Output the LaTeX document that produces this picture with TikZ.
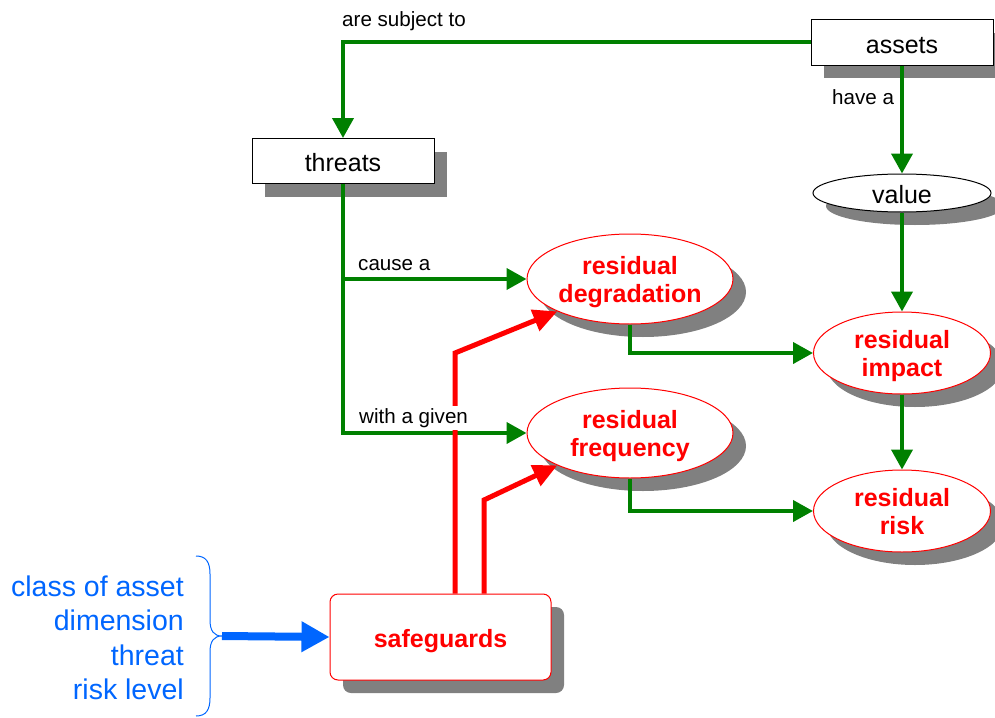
\documentclass[tikz,border=0pt]{standalone}
\usepackage{fontspec}
\setmainfont{Liberation Sans}
\usetikzlibrary{arrows.meta,shapes.geometric,shadows}
\definecolor{lgreen}{RGB}{0,128,0}
\definecolor{lred}{RGB}{255,0,0}
\definecolor{lblue}{RGB}{0,102,255}
\definecolor{shgray}{RGB}{128,128,128}
\tikzset{
  shad/.style={general shadow={fill=shgray, shadow xshift=13pt, shadow yshift=-13pt}},
  boxnode/.style={draw=black, line width=1pt, fill=white, minimum width=182pt, minimum height=45pt,
    inner sep=0pt, shad, text height=21pt, text depth=0pt, font=\fontsize{25}{30}\selectfont},
  ellnode/.style={ellipse, draw=lred, line width=1pt, fill=white, inner sep=0pt, align=center,
    text=lred, shad, text height=50pt, text depth=3pt, font=\bfseries\fontsize{25}{28}\selectfont},
  valnode/.style={ellipse, draw=black, line width=1pt, fill=white, inner sep=0pt,
    shad, text height=21pt, text depth=0pt, font=\fontsize{25}{30}\selectfont},
  safenode/.style={draw=lred, line width=1pt, fill=white, rounded corners=8pt, inner sep=0pt,
    text=lred, shad, text height=20pt, text depth=0pt, font=\bfseries\fontsize{25}{30}\selectfont},
  glink/.style={draw=lgreen, line width=4pt, -{Triangle[length=20pt,width=21pt]}},
  rlink/.style={draw=lred, line width=5pt, -{Triangle[length=24pt,width=22pt]}},
  blink/.style={draw=lblue, line width=8pt, -{Triangle[length=28pt,width=29pt]}},
  lab/.style={anchor=west, inner sep=2pt, font=\fontsize{20.6}{24}\selectfont},
}
\begin{document}
\begin{tikzpicture}[x=1pt,y=-1pt]
\useasboundingbox (0,0) rectangle (995,717);
% nodes
\node[boxnode] (assets) at (902,42.5) {assets};
\node[boxnode] (threats) at (343,161) {threats};
\node[valnode, minimum width=178pt, minimum height=38pt] (value) at (902,193) {value};
\node[ellnode, minimum width=206pt, minimum height=90pt] (deg) at (630,279) {residual\\degradation};
\node[ellnode, minimum width=206pt, minimum height=90pt] (freq) at (630,433) {residual\\frequency};
\node[ellnode, minimum width=177pt, minimum height=82pt] (impact) at (902,353) {residual\\impact};
\node[ellnode, minimum width=177pt, minimum height=82pt] (risk) at (902,511) {residual\\risk};
\node[safenode, minimum width=221pt, minimum height=86pt] (safe) at (440.5,637) {safeguards};
% green connectors
\draw[glink] (assets.west) -| (threats.north);
\draw[glink] (assets.south) -- (value.north);
\draw[glink] (value.south) -- (impact.north);
\draw[glink] (impact.south) -- (risk.north);
\draw[glink] (threats.south) |- (freq.west);
\draw[glink] (threats.south |- deg.west) -- (deg.west);
\draw[glink] (deg.south) |- (impact.west);
\draw[glink] (freq.south) |- (risk.west);
% red connectors
\coordinate (r1) at (455,353);
\coordinate (r2) at (484,500);
\draw[rlink] (safe.north -| r1) -- (r1) -- (deg.204);
\draw[rlink] (safe.north -| r2) -- (r2) -- (freq.204);
% labels
\node[lab] (l1) at (340,21.5) {are subject to};
\node[lab] (l2) at (830,97) {have a};
\node[lab] (l3) at (356,265.5) {cause a};
\node[lab, fill=white] (l4) at (357,418) {with a given};
% blue input
\node[anchor=east, align=right, inner sep=0pt, text=lblue, font=\fontsize{28.5}{34.5}\selectfont] (inputs) at (184,638)
  {class of asset\\dimension\\threat\\risk level};
\coordinate (bt) at (222,636);
\draw[blink] (bt) -- (safe.west);
\draw[lblue, line width=1pt] (196,556) .. controls (206,556) and (210,562) .. (210,574) -- (210,620)
  .. controls (210,631) and (214,636) .. (222,636)
  .. controls (214,636) and (210,641) .. (210,652) -- (210,698)
  .. controls (210,710) and (206,716) .. (196,716);
\end{tikzpicture}
\end{document}
